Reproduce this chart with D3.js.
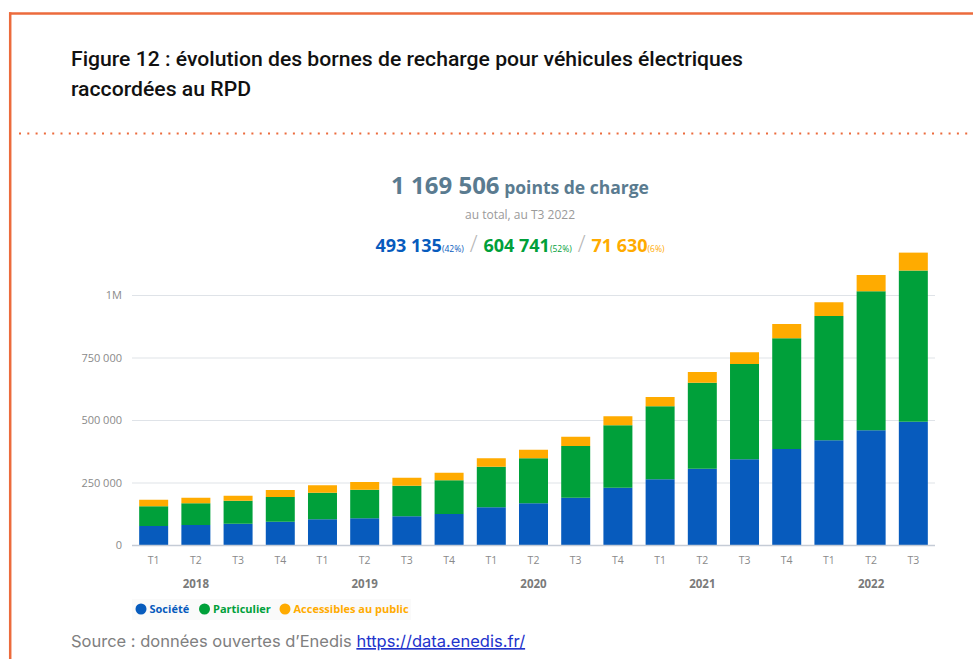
<!DOCTYPE html>
<html>
<head>
<meta charset="utf-8">
<script src="https://cdn.jsdelivr.net/npm/d3@7"></script>
<style>
  body { margin: 0; background: #fff; }
  svg { display: block; }
</style>
</head>
<body>
<div id="chart"></div>
<script>
// Data (values in charge points)
const periods = ["2018 T1", "2018 T2", "2018 T3", "2018 T4",
                 "2019 T1", "2019 T2", "2019 T3", "2019 T4",
                 "2020 T1", "2020 T2", "2020 T3", "2020 T4",
                 "2021 T1", "2021 T2", "2021 T3", "2021 T4",
                 "2022 T1", "2022 T2", "2022 T3"];
const societe = [76000, 80000, 85000, 93000, 103000, 107000, 115000, 124000,
                 151000, 167000, 189000, 229000, 263000, 305000, 343000, 384000,
                 419000, 459000, 493135];
const particulier = [79000, 87000, 92000, 99000, 106000, 114000, 122000, 135000,
                     162000, 180000, 207000, 250000, 292000, 344000, 381000, 443000,
                     497000, 556000, 604741];
const publicAcc = [26000, 22000, 20000, 28000, 30000, 31000, 32000, 30000,
                   34000, 34000, 37000, 36000, 37000, 43000, 47000, 57000,
                   55000, 65000, 71630];
const years = ["2018", "2019", "2020", "2021", "2022"];
const yTicks = [0, 250000, 500000, 750000, 1000000];
const seriesNames = ["Société", "Particulier", "Accessibles au public"];

const colors = ["#075bbd", "#00a03a", "#ffab00"];

const width = 973, height = 659;
const fr = d3.formatLocale({decimal: ",", thousands: " ", grouping: [3], currency: ["", " €"]});
const fmt = fr.format(",");

const svg = d3.select("#chart").append("svg")
    .attr("width", width)
    .attr("height", height);

// frame: orange top + left rule, dotted separator
svg.append("line")
    .attr("x1", 9).attr("x2", width).attr("y1", 13.5).attr("y2", 13.5)
    .attr("stroke", "#ec6b3c").attr("stroke-width", 2.5);
svg.append("line")
    .attr("x1", 10.2).attr("x2", 10.2).attr("y1", 12.3).attr("y2", height)
    .attr("stroke", "#ec6b3c").attr("stroke-width", 2.5);
svg.append("line")
    .attr("x1", 19).attr("x2", width).attr("y1", 133.5).attr("y2", 133.5)
    .attr("stroke", "#ec6b3c").attr("stroke-width", 2)
    .attr("stroke-dasharray", "2,6.3");

// figure title (condensed look)
const title = svg.append("g")
    .attr("font-family", "Roboto, 'Liberation Sans', sans-serif")
    .attr("font-weight", 500)
    .attr("font-size", "19.5px")
    .attr("fill", "#111");
title.append("text").attr("x", 71).attr("y", 66)
    .attr("textLength", 672).attr("lengthAdjust", "spacingAndGlyphs")
    .text("Figure 12 : évolution des bornes de recharge pour véhicules électriques");
title.append("text").attr("x", 71).attr("y", 96)
    .attr("textLength", 180).attr("lengthAdjust", "spacingAndGlyphs")
    .text("raccordées au RPD");

// chart header
const total = societe[societe.length - 1] + particulier[particulier.length - 1] + publicAcc[publicAcc.length - 1];
const cx = 520;
const head = svg.append("g").attr("font-family", "'Open Sans', 'Noto Sans', sans-serif");

const h1 = head.append("text").attr("x", cx).attr("y", 194)
    .attr("text-anchor", "middle").attr("fill", "#5a7b90").attr("font-weight", 700);
h1.append("tspan").attr("font-size", "24px").text(fmt(total));
h1.append("tspan").attr("font-size", "17.5px").text(" points de charge");

head.append("text").attr("x", cx).attr("y", 219)
    .attr("text-anchor", "middle").attr("fill", "#9a9a9a").attr("font-size", "12px")
    .text("au total, au T3 2022");

const last = [societe, particulier, publicAcc].map(a => a[a.length - 1]);
const h3 = head.append("text").attr("x", cx).attr("y", 252)
    .attr("text-anchor", "middle");
last.forEach(function(v, i) {
    if (i > 0) {
        h3.append("tspan").attr("fill", "#b5b5b5").attr("font-size", "23px")
            .attr("font-weight", 300).text(" / ");
    }
    h3.append("tspan").attr("fill", colors[i]).attr("font-size", "18px")
        .attr("font-weight", 700).text(fmt(v));
    h3.append("tspan").attr("fill", colors[i]).attr("font-size", "8.5px")
        .text("(" + Math.round(v / total * 100) + "%)");
});

// scales
const x = d3.scaleBand()
    .domain(periods)
    .range([132, 935])
    .paddingInner(0.313)
    .paddingOuter(0.17);

const y = d3.scaleLinear()
    .domain([0, 1000000])
    .range([545, 295]);

// gridlines + y labels
const yAxis = d3.axisLeft(y)
    .tickValues(yTicks)
    .tickSize(-(935 - 132))
    .tickPadding(10)
    .tickFormat(d => d === 1000000 ? "1M" : fmt(d));

svg.append("g")
    .attr("transform", "translate(132,0)")
    .call(yAxis)
    .call(g => g.select(".domain").remove())
    .call(g => g.selectAll(".tick line").attr("stroke", "#dfe3e8").attr("stroke-width", 1.2))
    .call(g => g.selectAll(".tick text")
        .attr("fill", "#8a8a8a")
        .attr("font-size", "11px")
        .attr("font-family", "'Open Sans', 'Noto Sans', sans-serif"));

// stacked bars
const table = periods.map((p, i) => ({period: p, s0: societe[i], s1: particulier[i], s2: publicAcc[i]}));
const stack = d3.stack().keys(["s0", "s1", "s2"])(table);

svg.append("g").selectAll("g")
    .data(stack)
    .join("g")
    .attr("fill", (d, i) => colors[i])
    .selectAll("rect")
    .data(d => d)
    .join("rect")
    .attr("x", d => x(d.data.period))
    .attr("width", x.bandwidth())
    .attr("y", d => y(d[1]))
    .attr("height", d => y(d[0]) - y(d[1]));

// baseline
svg.append("line")
    .attr("x1", 132).attr("x2", 935).attr("y1", y(0) + 0.5).attr("y2", y(0) + 0.5)
    .attr("stroke", "#c5ccd6").attr("stroke-width", 1.5);

// x axis: quarters then years
const xAxis = d3.axisBottom(x)
    .tickSize(0)
    .tickPadding(12)
    .tickFormat(d => d.split(" ")[1]);

svg.append("g")
    .attr("transform", "translate(0," + y(0) + ")")
    .call(xAxis)
    .call(g => g.select(".domain").remove())
    .call(g => g.selectAll(".tick text")
        .attr("fill", "#8a8a8a")
        .attr("font-size", "10.5px")
        .attr("font-family", "'Open Sans', 'Noto Sans', sans-serif"));

svg.append("g").selectAll("text")
    .data(years)
    .join("text")
    .attr("x", d => x(d + " T2") + x.bandwidth() / 2)
    .attr("y", 588)
    .attr("text-anchor", "middle")
    .attr("fill", "#7a7a7a")
    .attr("font-size", "11.5px")
    .attr("font-weight", 700)
    .attr("font-family", "'Open Sans', 'Noto Sans', sans-serif")
    .text(d => d);

// legend
svg.append("rect")
    .attr("x", 132).attr("y", 599).attr("width", 279).attr("height", 21)
    .attr("fill", "#fafafa");
const legendX = [141, 204.5, 285];
const legend = svg.append("g").selectAll("g")
    .data(seriesNames)
    .join("g")
    .attr("transform", (d, i) => "translate(" + legendX[i] + ",609)");
legend.append("circle").attr("r", 5.5).attr("fill", (d, i) => colors[i]);
legend.append("text")
    .attr("x", 8.5).attr("y", 4)
    .attr("fill", (d, i) => colors[i])
    .attr("font-size", "11px")
    .attr("font-weight", 700)
    .attr("font-family", "'Open Sans', 'Noto Sans', sans-serif")
    .text(d => d);

// source
const src = svg.append("text")
    .attr("x", 71).attr("y", 647)
    .attr("font-family", "Inter, Roboto, sans-serif")
    .attr("font-size", "16.5px");
src.append("tspan").attr("fill", "#808080").text("Source : données ouvertes d’Enedis ");
src.append("tspan").attr("fill", "#2233cc").attr("text-decoration", "underline")
    .text("https://data.enedis.fr/");
</script>
</body>
</html>
